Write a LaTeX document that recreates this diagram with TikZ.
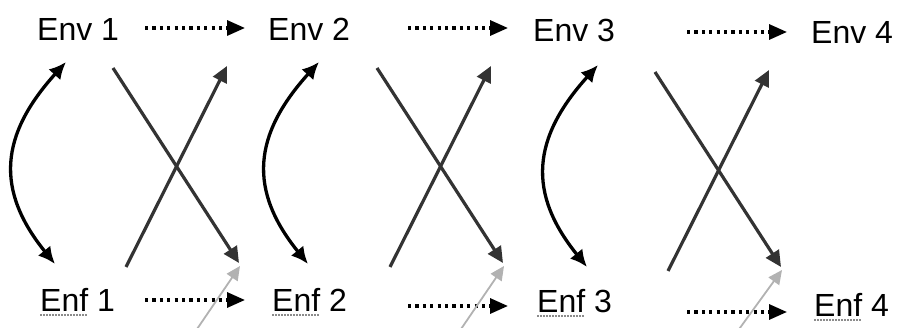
\documentclass[tikz,border=0pt]{standalone}
\usepackage{fontspec}
\setmainfont{Liberation Sans}
\usetikzlibrary{arrows.meta}

\begin{document}
\begin{tikzpicture}[x=1pt,y=-1pt,
    word/.style={inner sep=0pt, anchor=base west, font=\fontsize{32}{38}\selectfont},
    timearrow/.style={line width=3.2pt, dash pattern=on 3.2pt off 4.2pt, -{Triangle[length=18pt,width=15pt]}},
    swaparrow/.style={line width=3.3pt, {Latex[length=17pt,width=16pt]}-{Latex[length=17pt,width=16pt]}},
    crossarrow/.style={line width=3.2pt, draw=black!80, fill=black!80, -{Triangle[length=16pt,width=15pt]}},
    ghostarrow/.style={line width=1.8pt, draw=black!30, -{Triangle[length=14pt,width=13pt]}},
    spellmark/.style={line width=1.2pt, draw=black!45, dash pattern=on 1.5pt off 1.5pt}]
            \useasboundingbox (0,0) rectangle (899,328);

            % Define labels
            \node[word] (env1) at (37,41) {Env 1};
            \node[word] (env2) at (268,41) {Env 2};
            \node[word] (env3) at (533,42) {Env 3};
            \node[word] (env4) at (811,44) {Env 4};
            \node[word] (enf1) at (40,312) {Enf 1};
            \node[word] (enf2) at (272,312) {Enf 2};
            \node[word] (enf3) at (537,313) {Enf 3};
            \node[word] (enf4) at (814,317) {Enf 4};

            % Spelling marks under Enf
            \foreach \i in {1,...,4}
                \draw[spellmark] ([yshift=-3pt]enf\i.base west) -- +(48,0);

            % Dotted arrows in time
            \foreach \x/\t/\b in {145/28/300, 408/28/306, 687/32/312}{
                \coordinate (top\x) at (\x,\t);
                \coordinate (bot\x) at (\x,\b);
                \draw[timearrow] (top\x) -- +(100,0);
                \draw[timearrow] (bot\x) -- +(100,0);
            }

            % Curved double arrows
            \foreach \x/\s in {65/0, 318/0, 597/3}{
                \coordinate (up\x) at (\x+1,62+\s);
                \coordinate (dn\x) at (\x-10,264+\s);
                \draw[swaparrow] (up\x) .. controls (\x-65,135+\s) and (\x-70,190+\s) .. (dn\x);
            }

            % Crossing arrows
            \foreach \a/\s in {113/0, 377/0, 655/4}{
                \coordinate (ta\a) at (\a,68+\s);
                \coordinate (ha\a) at (\a+126,263+\s);
                \coordinate (tb\a) at (\a+13,267+\s);
                \coordinate (hb\a) at (\a+114,66+\s);
                \coordinate (tc\a) at (\a+82,332);
                \coordinate (hc\a) at (\a+127,266+\s);
                \draw[ghostarrow] (tc\a) -- (hc\a);
                \draw[crossarrow] (ta\a) -- (ha\a);
                \draw[crossarrow] (tb\a) -- (hb\a);
            }
        \end{tikzpicture}
\end{document}
